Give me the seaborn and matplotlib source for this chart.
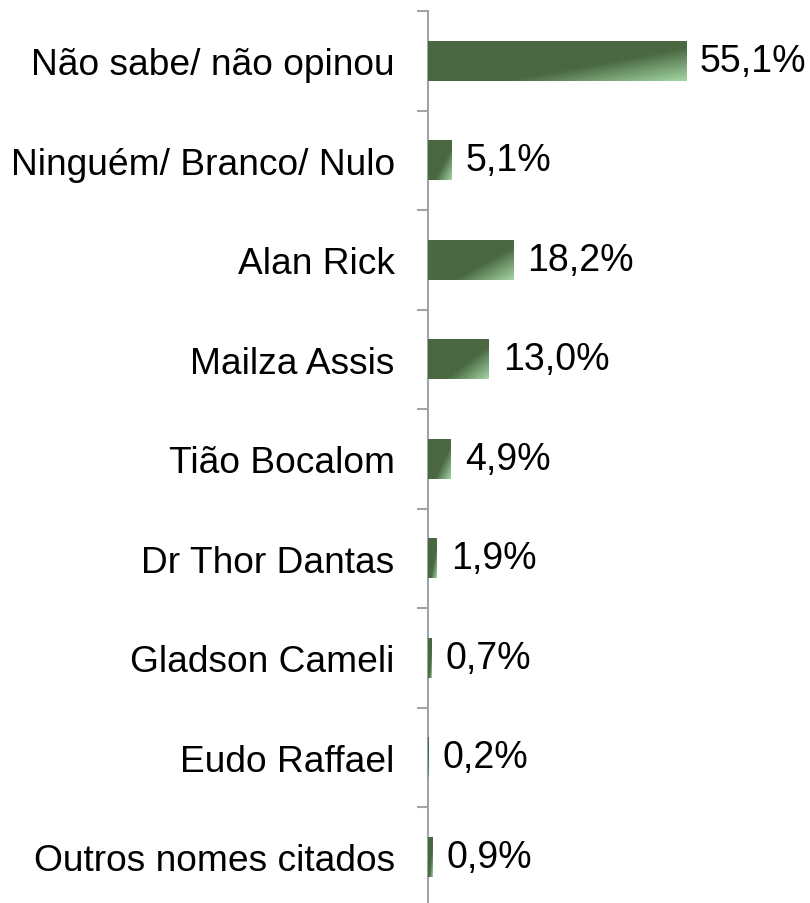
import numpy as np
import pandas as pd
import matplotlib
matplotlib.use("Agg")
import matplotlib.pyplot as plt
import seaborn as sns
from matplotlib.colors import to_rgb

categorias = ["Não sabe/ não opinou", "Ninguém/ Branco/ Nulo", "Alan Rick",
              "Mailza Assis", "Tião Bocalom", "Dr Thor Dantas",
              "Gladson Cameli", "Eudo Raffael", "Outros nomes citados"]
valores = [55.1, 5.1, 18.2, 13.0, 4.9, 1.9, 0.7, 0.2, 0.9]

ESCURO = "#4a6842"
CLARO = "#a3d6a3"
EIXO = "#a0a4a9"

sns.set_theme(style="white")
plt.rcParams["font.family"] = ["Liberation Sans", "DejaVu Sans"]

df = pd.DataFrame({"cat": categorias, "val": valores})

fig = plt.figure(figsize=(8.1, 9.04), dpi=100)
ax = fig.add_axes([428 / 810, -0.004, 281 / 810, 0.9907])

sns.barplot(data=df, x="val", y="cat", orient="h", color=ESCURO,
            width=0.4, saturation=1, ax=ax)

# degradê diagonal em cada barra
c0 = np.array(to_rgb(ESCURO))
c1 = np.array(to_rgb(CLARO))
u = np.linspace(0, 1, 200)[None, :]
v = np.linspace(0, 1, 40)[:, None]
t = np.clip((0.55 * u + 0.45 * v - 0.62) / 0.38, 0, 1)
grad = c0 + (c1 - c0) * t[..., None]
for p in ax.patches:
    x0, y0 = p.get_x(), p.get_y()
    w, h = p.get_width(), p.get_height()
    if w <= 0:
        continue
    im = ax.imshow(grad, extent=(x0, x0 + w, y0 + h, y0), origin="upper",
                   aspect="auto", zorder=3, interpolation="bilinear")
    im.set_clip_path(p)

rotulos = [f"{v:.1f}%".replace(".", ",") for v in valores]
ax.bar_label(ax.containers[0], labels=rotulos, padding=10, fontsize=27,
             color="black")

ax.set_xlim(0, 60)
ax.set_ylim(len(categorias) - 0.5, -0.5)
ax.set_xlabel("")
ax.set_ylabel("")
ax.set_xticks([])

ax.set_yticks(range(len(categorias)))
ax.set_yticklabels(categorias, fontsize=26.7, color="black")
ax.set_yticks(np.arange(-0.5, len(categorias), 1), minor=True)
ax.tick_params(axis="y", which="major", length=0, pad=24)
ax.tick_params(axis="y", which="minor", length=8, width=1.5, color=EIXO,
               left=True)

for s in ["top", "right", "bottom"]:
    ax.spines[s].set_visible(False)
ax.spines["left"].set_color(EIXO)
ax.spines["left"].set_linewidth(1.5)
ax.set_facecolor("none")

fig.savefig("out.png", dpi=100)
